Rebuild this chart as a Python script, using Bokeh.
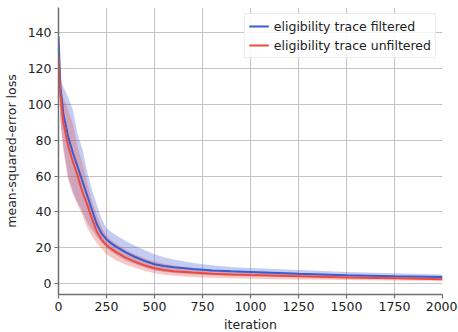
from bokeh.plotting import figure
from bokeh.models import ColumnDataSource, FixedTicker, Range1d, Legend, LegendItem
from bokeh.embed import file_html
from bokeh.resources import INLINE

# ---- data ----
iterations = [0, 10, 25, 50, 75, 100, 125, 150, 175, 200, 225, 250, 275, 300, 350, 400,
              450, 500, 550, 600, 700, 800, 900, 1000, 1250, 1500, 1750, 2000]

filtered_mean = [138, 110, 95, 82, 73, 65, 57, 49, 41, 33, 28, 24.7, 22.5, 20.7, 17.5, 14.9,
                 12.7, 10.9, 9.9, 9.2, 8.2, 7.4, 6.9, 6.5, 5.5, 4.8, 4.2, 3.7]
filtered_lower = [128, 92, 77, 60, 51, 45, 40, 34, 30, 26, 23, 20, 17.8, 16, 13, 10.8,
                  9, 7.4, 6.6, 6.0, 5.2, 4.7, 4.4, 4.2, 3.7, 3.3, 2.9, 2.4]
filtered_upper = [140, 114, 110, 104, 97, 83, 75, 62, 52, 44, 36, 31, 28.8, 27, 23.8, 21,
                  18.6, 16.5, 14.8, 13.5, 11.6, 10.3, 9.4, 8.8, 7.6, 6.6, 5.8, 5.2]

unfiltered_mean = [127, 105, 90, 77, 68, 60, 51, 44, 36, 29, 24.5, 21.4, 19.4, 17.6, 14.6, 12.2,
                   10.2, 8.6, 7.7, 7.0, 6.2, 5.6, 5.2, 4.9, 4.2, 3.5, 3.0, 2.5]
unfiltered_lower = [120, 90, 74, 58, 50, 44, 38, 31, 26.5, 22.5, 19.5, 16.5, 14.6, 13.1, 10.7, 8.8,
                    7.2, 5.8, 5.0, 4.5, 3.7, 3.3, 3.0, 2.8, 2.4, 2.1, 1.8, 1.5]
unfiltered_upper = [132, 108, 104, 97, 89, 76, 67, 56, 46, 38, 31.5, 27, 24.4, 22.3, 19, 16.3,
                    14.1, 12.4, 11.1, 10.1, 8.7, 7.8, 7.3, 6.9, 6, 5.1, 4.5, 3.8]

x_ticks = [0, 250, 500, 750, 1000, 1250, 1500, 1750, 2000]
y_ticks = [0, 20, 40, 60, 80, 100, 120, 140]

series_labels = ["eligibility trace filtered", "eligibility trace unfiltered"]
blue = "#3b5bd0"
red = "#ec4a3e"

FONT = "DejaVu Sans"
FS = "12.5px"

p = figure(frame_width=384, frame_height=287, output_backend="svg", toolbar_location=None,
           x_range=Range1d(0, 2000), y_range=Range1d(-6, 154),
           min_border_left=51, min_border_right=15, min_border_top=7, min_border_bottom=0)
p.outline_line_color = None
p.background_fill_color = "white"

src = ColumnDataSource(dict(x=iterations,
                            fm=filtered_mean, fl=filtered_lower, fu=filtered_upper,
                            um=unfiltered_mean, ul=unfiltered_lower, uu=unfiltered_upper))

p.varea(x="x", y1="fl", y2="fu", source=src, fill_color=blue, fill_alpha=0.3)
p.varea(x="x", y1="ul", y2="uu", source=src, fill_color=red, fill_alpha=0.3)
r_blue = p.line("x", "fm", source=src, line_color=blue, line_width=2)
r_red = p.line("x", "um", source=src, line_color=red, line_width=2)

# axes
for ax in (p.xaxis[0], p.yaxis[0]):
    ax.axis_line_color = "#707070"
    ax.axis_line_width = 1.5
    ax.major_tick_line_color = "#707070"
    ax.major_tick_line_width = 1.2
    ax.major_tick_out = 4
    ax.major_tick_in = 0
    ax.minor_tick_line_color = None
    ax.major_label_text_font = FONT
    ax.major_label_text_font_size = FS
    ax.major_label_text_color = "#222222"
    ax.axis_label_text_font = FONT
    ax.axis_label_text_font_size = FS
    ax.axis_label_text_font_style = "normal"
    ax.axis_label_text_color = "#222222"

p.xaxis.major_label_standoff = 3
p.yaxis.major_label_standoff = 3
p.xaxis.ticker = FixedTicker(ticks=x_ticks)
p.yaxis.ticker = FixedTicker(ticks=y_ticks)
p.xaxis.axis_label = "iteration"
p.yaxis.axis_label = "mean-squared-error loss"
p.xaxis.axis_label_standoff = 3
p.yaxis.axis_label_standoff = 6

p.xgrid.ticker = FixedTicker(ticks=x_ticks)
p.ygrid.ticker = FixedTicker(ticks=y_ticks)
p.grid.grid_line_color = "#c4c4c4"
p.grid.grid_line_width = 1

legend = Legend(items=[LegendItem(label=series_labels[0], renderers=[r_blue]),
                       LegendItem(label=series_labels[1], renderers=[r_red])],
                location="top_right")
legend.label_text_font = FONT
legend.label_text_font_size = FS
legend.label_text_color = "#222222"
legend.glyph_width = 20
legend.glyph_height = 16
legend.label_height = 16
legend.label_standoff = 5
legend.spacing = 3
legend.padding = 4
legend.margin = 6
legend.border_line_color = "#d8d8d8"
legend.border_line_width = 1
legend.background_fill_color = "white"
legend.background_fill_alpha = 0.85
p.add_layout(legend)

html = file_html(p, INLINE)
html = html.replace("<head>", "<head><style>html,body{overflow:hidden;}body{margin-bottom:0;}</style>", 1)
open("out.html", "w").write(html)
